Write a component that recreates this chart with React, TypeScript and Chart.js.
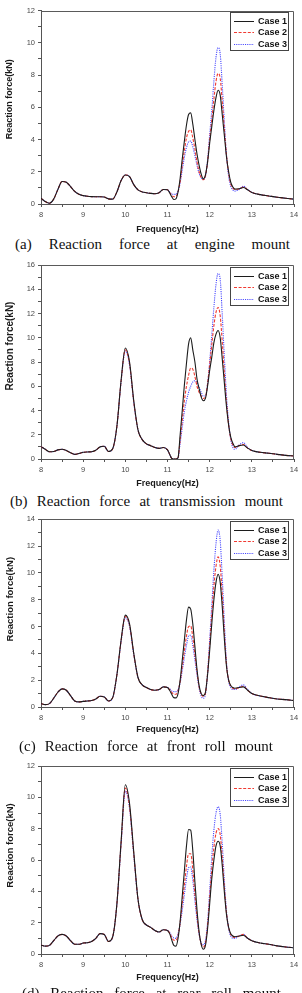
import React, { useEffect, useRef } from "react";
import { Chart, registerables } from "chart.js";

Chart.register(...registerables);

// Frequency grid (Hz), finer around the resonance peaks
const freqHz = [
  8.0, 8.1, 8.2, 8.3, 8.4, 8.5, 8.6, 8.7, 8.8, 8.9,
  9.0, 9.1, 9.2, 9.3, 9.4, 9.5, 9.6, 9.7, 9.8, 9.9,
  10.0, 10.1, 10.2, 10.3, 10.4, 10.5, 10.6, 10.7, 10.8, 10.9,
  11.0, 11.05, 11.1, 11.15, 11.2, 11.25, 11.3, 11.35, 11.4, 11.45,
  11.5, 11.55, 11.6, 11.65, 11.7, 11.75, 11.8, 11.85, 11.9, 11.95,
  12.0, 12.05, 12.1, 12.15, 12.2, 12.25, 12.3, 12.35, 12.4, 12.45,
  12.5, 12.55, 12.6, 12.7, 12.8, 12.9, 13.0, 13.2, 13.4, 13.6,
  13.8, 14.0,
];

const caseLabels = ["Case 1", "Case 2", "Case 3"];

// (a) engine mount, reaction force (kN)
const engineCase1 = [
  0.36, 0.15, 0.05, 0.3, 0.9, 1.4, 1.35, 1.08, 0.78, 0.6,
  0.52, 0.48, 0.46, 0.45, 0.45, 0.43, 0.32, 0.3, 0.75, 1.45,
  1.8, 1.7, 1.2, 0.88, 0.75, 0.7, 0.66, 0.64, 0.7, 0.9,
  0.88, 0.7, 0.45, 0.28, 0.32, 0.75, 1.6, 2.8, 3.9, 4.9,
  5.55, 5.65, 4.95, 4.0, 3.1, 2.4, 1.85, 1.55, 1.8, 2.6,
  3.77, 4.8, 5.8, 6.6, 7.05, 6.75, 5.5, 4.2, 2.9, 2.0,
  1.35, 1.05, 0.92, 0.95, 1.02, 0.88, 0.72, 0.58, 0.5, 0.42,
  0.36, 0.3,
];
const engineCase2 = [
  0.36, 0.15, 0.05, 0.3, 0.9, 1.4, 1.35, 1.08, 0.78, 0.6,
  0.52, 0.48, 0.46, 0.45, 0.45, 0.43, 0.32, 0.3, 0.75, 1.45,
  1.8, 1.7, 1.2, 0.88, 0.75, 0.7, 0.66, 0.64, 0.7, 0.9,
  0.88, 0.72, 0.55, 0.45, 0.47, 0.75, 1.4, 2.4, 3.3, 4.1,
  4.5, 4.6, 4.1, 3.4, 2.6, 2.0, 1.65, 1.5, 1.75, 2.6,
  4.0, 5.2, 6.5, 7.6, 8.1, 7.8, 6.3, 4.6, 3.0, 1.9,
  1.25, 0.98, 0.9, 0.95, 1.05, 0.88, 0.72, 0.58, 0.5, 0.42,
  0.36, 0.3,
];
const engineCase3 = [
  0.36, 0.15, 0.05, 0.3, 0.9, 1.4, 1.35, 1.08, 0.78, 0.6,
  0.52, 0.48, 0.46, 0.45, 0.45, 0.43, 0.32, 0.3, 0.75, 1.45,
  1.8, 1.7, 1.2, 0.88, 0.75, 0.7, 0.66, 0.64, 0.7, 0.9,
  0.88, 0.75, 0.62, 0.6, 0.6, 0.8, 1.3, 2.1, 2.9, 3.5,
  3.85, 3.9, 3.55, 3.0, 2.4, 1.9, 1.62, 1.55, 1.75, 2.7,
  4.3, 5.8, 7.6, 9.1, 9.7, 9.3, 7.3, 5.0, 3.0, 1.7,
  1.1, 0.88, 0.8, 0.9, 1.1, 0.9, 0.72, 0.58, 0.5, 0.42,
  0.36, 0.3,
];

// (b) transmission mount
const transCase1 = [
  1.02, 0.8, 0.6, 0.62, 0.75, 0.8, 0.7, 0.52, 0.38, 0.45,
  0.55, 0.58, 0.6, 0.72, 1.0, 1.05, 0.62, 0.85, 2.7, 6.5,
  9.15, 8.0, 4.8, 2.4, 1.6, 1.25, 1.1, 0.95, 0.88, 0.95,
  0.75, 0.4, 0.05, 0.0, 0.0, 0.1, 2.0, 4.0, 6.1, 7.9,
  9.5, 10.0, 9.0, 8.0, 6.6, 5.8, 5.1, 4.8, 5.0, 6.0,
  7.3, 8.4, 9.6, 10.3, 10.6, 10.0, 8.2, 6.2, 4.3, 2.8,
  1.8, 1.3, 1.0, 1.1, 1.15, 0.9, 0.7, 0.55, 0.48, 0.38,
  0.3, 0.25,
];
const transCase2 = [
  1.02, 0.8, 0.6, 0.62, 0.75, 0.8, 0.7, 0.52, 0.38, 0.45,
  0.55, 0.58, 0.6, 0.72, 1.0, 1.05, 0.62, 0.85, 2.7, 6.45,
  9.0, 7.85, 4.7, 2.4, 1.6, 1.25, 1.1, 0.95, 0.88, 0.95,
  0.75, 0.4, 0.05, 0.0, 0.0, 0.1, 1.6, 3.2, 4.8, 6.0,
  6.9, 7.5, 7.4, 6.8, 6.0, 5.5, 5.2, 5.0, 5.1, 6.2,
  7.8, 9.4, 11.0, 12.1, 12.5, 11.8, 9.6, 7.0, 4.6, 2.8,
  1.7, 1.15, 0.95, 1.1, 1.2, 0.9, 0.7, 0.55, 0.48, 0.38,
  0.3, 0.25,
];
const transCase3 = [
  1.02, 0.8, 0.6, 0.62, 0.75, 0.8, 0.7, 0.52, 0.38, 0.45,
  0.55, 0.58, 0.6, 0.72, 1.0, 1.05, 0.62, 0.85, 2.7, 6.4,
  8.9, 7.75, 4.65, 2.4, 1.6, 1.25, 1.1, 0.95, 0.88, 0.95,
  0.75, 0.4, 0.05, 0.0, 0.0, 0.1, 1.3, 2.6, 3.9, 4.8,
  5.5, 6.0, 6.35, 6.45, 6.3, 5.9, 5.5, 5.2, 5.2, 6.2,
  8.0, 10.2, 12.5, 14.4, 15.3, 14.8, 11.8, 8.3, 5.2, 3.0,
  1.6, 0.95, 0.8, 1.15, 1.35, 0.95, 0.72, 0.55, 0.48, 0.38,
  0.3, 0.25,
];

// (c) front roll mount
const frontCase1 = [
  0.25, 0.18, 0.25, 0.65, 1.1, 1.35, 1.25, 0.85, 0.45, 0.38,
  0.42, 0.45, 0.48, 0.6, 0.8, 0.75, 0.45, 0.7, 2.4, 5.0,
  6.85, 6.2, 4.0, 2.2, 1.65, 1.45, 1.3, 1.25, 1.3, 1.5,
  1.45, 1.25, 0.95, 0.7, 0.68, 1.0, 2.0, 3.5, 5.0, 6.5,
  7.45, 7.3, 6.2, 4.5, 2.8, 1.6, 1.0, 0.85, 1.1, 2.4,
  4.2, 6.2, 8.0, 9.3, 9.9, 9.3, 7.4, 5.0, 3.0, 2.0,
  1.6, 1.45, 1.4, 1.45, 1.5, 1.25, 1.0, 0.82, 0.7, 0.6,
  0.55, 0.48,
];
const frontCase2 = [
  0.25, 0.18, 0.25, 0.65, 1.1, 1.35, 1.25, 0.85, 0.45, 0.38,
  0.42, 0.45, 0.48, 0.6, 0.8, 0.75, 0.45, 0.7, 2.4, 4.95,
  6.75, 6.1, 3.95, 2.2, 1.65, 1.45, 1.3, 1.25, 1.3, 1.5,
  1.45, 1.3, 1.1, 0.95, 0.95, 1.2, 1.9, 3.0, 4.2, 5.3,
  6.0, 6.05, 5.2, 3.9, 2.6, 1.5, 0.95, 0.8, 1.05, 2.5,
  4.6, 6.9, 9.0, 10.5, 11.2, 10.5, 8.3, 5.5, 3.1, 2.0,
  1.55, 1.4, 1.35, 1.45, 1.55, 1.25, 1.0, 0.82, 0.7, 0.6,
  0.55, 0.48,
];
const frontCase3 = [
  0.25, 0.18, 0.25, 0.65, 1.1, 1.35, 1.25, 0.85, 0.45, 0.38,
  0.42, 0.45, 0.48, 0.6, 0.8, 0.75, 0.45, 0.7, 2.4, 4.9,
  6.65, 6.0, 3.9, 2.2, 1.65, 1.45, 1.3, 1.25, 1.3, 1.5,
  1.45, 1.35, 1.2, 1.15, 1.15, 1.3, 1.8, 2.7, 3.7, 4.6,
  5.3, 5.35, 4.6, 3.5, 2.4, 1.4, 0.8, 0.65, 0.95, 2.5,
  5.0, 7.6, 10.2, 12.2, 13.2, 12.4, 9.6, 6.2, 3.3, 1.9,
  1.45, 1.3, 1.3, 1.5, 1.65, 1.3, 1.0, 0.82, 0.7, 0.6,
  0.55, 0.48,
];

// (d) rear roll mount
const rearCase1 = [
  0.57, 0.5, 0.55, 0.85, 1.15, 1.25, 1.15, 0.85, 0.62, 0.62,
  0.7, 0.72, 0.8, 1.0, 1.3, 1.25, 0.8, 1.1, 3.2, 7.2,
  10.8, 9.6, 6.5, 3.5, 2.2, 1.85, 1.7, 1.5, 1.4, 1.55,
  1.5, 1.3, 0.9, 0.55, 0.5, 1.0, 2.1, 3.7, 5.3, 6.9,
  7.95, 7.9, 6.6, 4.6, 2.8, 1.4, 0.6, 0.3, 0.55, 1.6,
  3.2, 4.8, 6.0, 6.9, 7.2, 6.9, 5.6, 3.9, 2.5, 1.7,
  1.3, 1.15, 1.1, 1.15, 1.2, 1.0, 0.85, 0.7, 0.62, 0.52,
  0.45, 0.4,
];
const rearCase2 = [
  0.57, 0.5, 0.55, 0.85, 1.15, 1.25, 1.15, 0.85, 0.62, 0.62,
  0.7, 0.72, 0.8, 1.0, 1.3, 1.25, 0.8, 1.1, 3.2, 7.1,
  10.6, 9.4, 6.4, 3.5, 2.2, 1.85, 1.7, 1.5, 1.4, 1.55,
  1.5, 1.35, 1.05, 0.88, 0.88, 1.2, 2.0, 3.2, 4.4, 5.6,
  6.4, 6.4, 5.4, 3.8, 2.4, 1.3, 0.65, 0.45, 0.7, 1.8,
  3.6, 5.4, 6.8, 7.7, 8.0, 7.6, 6.1, 4.2, 2.6, 1.7,
  1.25, 1.1, 1.05, 1.15, 1.25, 1.0, 0.85, 0.7, 0.62, 0.52,
  0.45, 0.4,
];
const rearCase3 = [
  0.57, 0.5, 0.55, 0.85, 1.15, 1.25, 1.15, 0.85, 0.62, 0.62,
  0.7, 0.72, 0.8, 1.0, 1.3, 1.25, 0.8, 1.1, 3.2, 7.0,
  10.4, 9.3, 6.3, 3.5, 2.2, 1.85, 1.7, 1.5, 1.4, 1.55,
  1.5, 1.4, 1.15, 1.02, 1.0, 1.3, 1.9, 2.8, 3.8, 4.8,
  5.5, 5.55, 4.7, 3.4, 2.2, 1.25, 0.7, 0.6, 0.85, 2.0,
  4.0, 6.2, 7.9, 9.0, 9.4, 8.9, 7.0, 4.6, 2.7, 1.6,
  1.15, 1.0, 1.0, 1.15, 1.25, 1.0, 0.85, 0.7, 0.62, 0.52,
  0.45, 0.4,
];

const SANS = '"Liberation Sans", Arial, Helvetica, sans-serif';
const SERIF = '"Liberation Serif", "Times New Roman", serif';

const caseStyles = [
  { color: "#1c1c1c", dash: [] as number[], width: 1.1 },
  { color: "#f03a32", dash: [3, 1.6], width: 1.1 },
  { color: "#4646ff", dash: [1.1, 1.1], width: 1.1 },
];

type PanelSpec = {
  id: string;
  caption: string[];
  captionLeft: number;
  captionRight: number;
  captionTop: number;
  series: number[][];
  yMax: number;
  canvasTop: number;
  canvasHeight: number;
  padTop: number;
  xTitlePad: number;
  yTitleSize: number;
  yTitleShift: number;
};

const panels: PanelSpec[] = [
  {
    id: "a",
    caption: ["(a)", "Reaction", "force", "at", "engine", "mount"],
    captionLeft: 15, captionRight: 290, captionTop: 237,
    series: [engineCase1, engineCase2, engineCase3],
    yMax: 12, canvasTop: 0, canvasHeight: 236, padTop: 10.5,
    xTitlePad: 1.3, yTitleSize: 9, yTitleShift: -8,
  },
  {
    id: "b",
    caption: ["(b)", "Reaction", "force", "at", "transmission", "mount"],
    captionLeft: 10, captionRight: 283, captionTop: 493.5,
    series: [transCase1, transCase2, transCase3],
    yMax: 16, canvasTop: 255, canvasHeight: 236, padTop: 10,
    xTitlePad: 1.9, yTitleSize: 10, yTitleShift: -16,
  },
  {
    id: "c",
    caption: ["(c)", "Reaction", "force", "at", "front", "roll", "mount"],
    captionLeft: 19, captionRight: 273, captionTop: 739,
    series: [frontCase1, frontCase2, frontCase3],
    yMax: 14, canvasTop: 509, canvasHeight: 230, padTop: 10.3,
    xTitlePad: 3.6, yTitleSize: 9.5, yTitleShift: -14,
  },
  {
    id: "d",
    caption: ["(d)", "Reaction", "force", "at", "rear", "roll", "mount"],
    captionLeft: 22, captionRight: 281, captionTop: 985.5,
    series: [rearCase1, rearCase2, rearCase3],
    yMax: 12, canvasTop: 756, canvasHeight: 230, padTop: 10,
    xTitlePad: 2.9, yTitleSize: 9.5, yTitleShift: -14.5,
  },
];

// Draws the closing frame (top/right), the boxed legend and the rotated y title.
const frameLegendPlugin = {
  id: "frameLegend",
  afterDraw(chart: any, _args: any, opts: any) {
    const { ctx, chartArea: a } = chart;
    ctx.save();
    ctx.strokeStyle = "#5a5a5a";
    ctx.lineWidth = 1;
    ctx.setLineDash([]);
    ctx.beginPath();
    ctx.moveTo(a.left, Math.round(a.top) + 0.5);
    ctx.lineTo(Math.round(a.right) - 0.5, Math.round(a.top) + 0.5);
    ctx.lineTo(Math.round(a.right) - 0.5, a.bottom);
    ctx.stroke();

    // legend box
    const bw = 59;
    const bh = 39;
    const bx = Math.round(a.right - 5 - bw);
    const by = Math.round(a.top + 1.5);
    ctx.fillStyle = "#ffffff";
    ctx.fillRect(bx, by, bw, bh);
    ctx.strokeStyle = "#444";
    ctx.lineWidth = 1;
    ctx.strokeRect(bx + 0.5, by + 0.5, bw - 1, bh - 1);
    ctx.font = `bold 9px ${SANS}`;
    ctx.textBaseline = "middle";
    ctx.textAlign = "left";
    chart.data.datasets.forEach((ds: any, i: number) => {
      const cy = Math.round(by + 9 + i * 11.3) + 0.5;
      ctx.beginPath();
      ctx.setLineDash(ds.borderDash || []);
      ctx.strokeStyle = ds.borderColor;
      ctx.lineWidth = 1;
      ctx.moveTo(bx + 4, cy);
      ctx.lineTo(bx + 24, cy);
      ctx.stroke();
      ctx.setLineDash([]);
      ctx.fillStyle = "#111";
      ctx.fillText(ds.label, bx + 28, cy);
    });

    // y axis title
    ctx.translate(10, (a.top + a.bottom) / 2 + opts.shift);
    ctx.rotate(-Math.PI / 2);
    ctx.textAlign = "center";
    ctx.textBaseline = "middle";
    ctx.fillStyle = "#1a1a1a";
    ctx.font = `bold ${opts.size}px ${SANS}`;
    ctx.fillText(opts.text, 0, 0);
    ctx.restore();
  },
};

function ForcePanel({ spec }: { spec: PanelSpec }) {
  const ref = useRef<HTMLCanvasElement | null>(null);

  useEffect(() => {
    if (!ref.current) return;
    const tickFont = { family: SANS, size: 7.5 };
    const chart = new Chart(ref.current, {
      type: "line",
      data: {
        datasets: spec.series.map((ys, i) => ({
          label: caseLabels[i],
          data: freqHz.map((f, j) => ({ x: f, y: ys[j] })),
          borderColor: caseStyles[i].color,
          borderDash: caseStyles[i].dash,
          borderWidth: caseStyles[i].width,
          pointRadius: 0,
          fill: false,
          cubicInterpolationMode: "monotone" as const,
        })),
      },
      options: {
        animation: false,
        responsive: false,
        devicePixelRatio: 1,
        layout: { padding: { top: spec.padTop, right: 8, left: 0, bottom: 0 } },
        plugins: {
          legend: { display: false },
          tooltip: { enabled: false },
          frameLegend: { text: "Reaction force(kN)", size: spec.yTitleSize, shift: spec.yTitleShift },
        } as any,
        scales: {
          x: {
            type: "linear",
            min: 8,
            max: 14,
            afterFit: (s: any) => {
              s.height = 32;
            },
            ticks: {
              stepSize: 0.5,
              autoSkip: false,
              maxRotation: 0,
              padding: 3,
              color: "#4a4a4a",
              font: tickFont,
              callback: (v: any) => (Number.isInteger(Number(v)) ? String(v) : ""),
            },
            grid: { drawOnChartArea: false, tickLength: 3, color: "#555" },
            border: { color: "#555", width: 1 },
            title: {
              display: true,
              text: "Frequency(Hz)",
              color: "#1a1a1a",
              font: { family: SANS, size: 9, weight: "bold" },
              padding: { top: 0, bottom: spec.xTitlePad },
            },
          },
          y: {
            type: "linear",
            min: 0,
            max: spec.yMax,
            afterFit: (s: any) => {
              s.width = 41;
            },
            ticks: {
              stepSize: 1,
              autoSkip: false,
              padding: 3,
              color: "#4a4a4a",
              font: tickFont,
              callback: (v: any) => (Number(v) % 2 === 0 ? String(v) : ""),
            },
            grid: { drawOnChartArea: false, tickLength: 3, color: "#555" },
            border: { color: "#555", width: 1 },
          },
        },
      },
      plugins: [frameLegendPlugin],
    });
    return () => chart.destroy();
  }, [spec]);

  return (
    <>
      <canvas
        ref={ref}
        width={302}
        height={spec.canvasHeight}
        style={{
          position: "absolute",
          left: 0,
          top: spec.canvasTop,
          width: 302,
          height: spec.canvasHeight,
        }}
      />
      <div
        style={{
          position: "absolute",
          left: spec.captionLeft,
          top: spec.captionTop,
          width: spec.captionRight - spec.captionLeft,
          display: "flex",
          justifyContent: "space-between",
          fontFamily: SERIF,
          fontSize: 15,
          lineHeight: "15px",
          whiteSpace: "nowrap",
          color: "#111",
        }}
      >
        {spec.caption.map((w, i) => (
          <span key={i}>{w}</span>
        ))}
      </div>
    </>
  );
}

export default function App() {
  return (
    <div
      style={{
        position: "absolute",
        left: 0,
        top: 0,
        width: 302,
        height: 993,
        overflow: "hidden",
        background: "#ffffff",
      }}
    >
      {panels.map((p) => (
        <ForcePanel key={p.id} spec={p} />
      ))}
    </div>
  );
}
